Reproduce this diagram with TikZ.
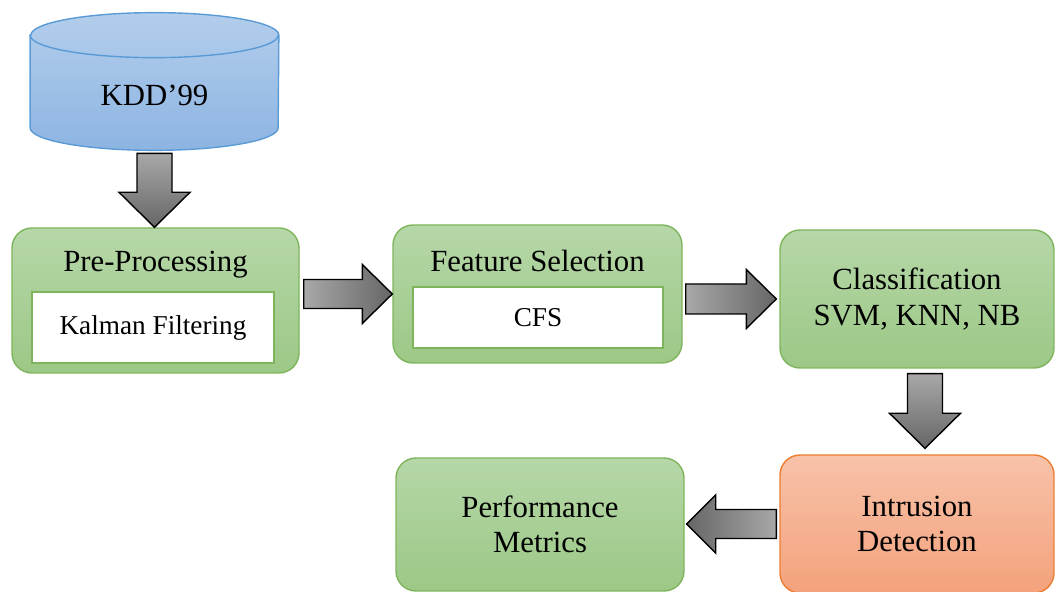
\documentclass[tikz,border=0pt]{standalone}
\usepackage{fontspec}
\setmainfont{Liberation Serif}
\usetikzlibrary{calc, positioning}
\definecolor{grnline}{HTML}{7EB55C}
\definecolor{grntop}{HTML}{B6D7A8}
\definecolor{grnbot}{HTML}{9CC886}
\definecolor{orgline}{HTML}{ED7D31}
\definecolor{orgtop}{HTML}{F7C2A9}
\definecolor{orgbot}{HTML}{F4A27C}
\definecolor{blueline}{HTML}{5B9BD5}
\definecolor{bluetop}{HTML}{B3CEEC}
\definecolor{bluebot}{HTML}{8DB4E2}
\definecolor{arrlight}{HTML}{A8A8A8}
\definecolor{arrdark}{HTML}{666666}
\tikzset{
  stage/.style={rectangle, rounded corners=0.4cm, draw=grnline, line width=0.8pt,
    top color=grntop, bottom color=grnbot, align=center, font=\fontsize{17.5}{20}\selectfont},
  stageOrg/.style={stage, draw=orgline, top color=orgtop, bottom color=orgbot},
  subbox/.style={rectangle, draw=grnline, line width=1.4pt, fill=white,
    font=\fontsize{15.5}{18}\selectfont},
  stagetitle/.style={font=\fontsize{17.5}{20}\selectfont},
  dbase/.style={rectangle, minimum width=4.96cm, minimum height=2.74cm, inner sep=0pt},
  dbfill/.style={draw=blueline, line width=0.8pt, top color=bluetop, bottom color=bluebot},
  fatarrow/.style n args={3}{draw=black, line width=0.8pt,
    to path={let \p1=(\tikztostart), \p2=(\tikztotarget),
      \n1={atan2(\y2-\y1,\x2-\x1)}, \n2={veclen(\x2-\x1,\y2-\y1)} in
      ($(\p1)+({\n1+90}:#1)$) -- ($(\p1)+(\n1:{\n2-#3})+({\n1+90}:#1)$)
      -- ($(\p1)+(\n1:{\n2-#3})+({\n1+90}:#2)$) -- (\p2)
      -- ($(\p1)+(\n1:{\n2-#3})+({\n1-90}:#2)$) -- ($(\p1)+(\n1:{\n2-#3})+({\n1-90}:#1)$)
      -- ($(\p1)+({\n1-90}:#1)$) -- cycle}},
}
\begin{document}
\begin{tikzpicture}
\useasboundingbox (0,0) rectangle (21.1,11.84);
% data set
\node[dbase] (kdd) at (3.09,10.21) {};
\path[dbfill] ([yshift=-0.45cm]kdd.north west) -- ([yshift=0.45cm]kdd.south west)
  arc[start angle=180, end angle=360, x radius=2.48cm, y radius=0.45cm]
  -- ([yshift=-0.45cm]kdd.north east)
  arc[start angle=0, end angle=180, x radius=2.48cm, y radius=0.45cm] -- cycle;
\draw[blueline, line width=0.8pt] ([yshift=-0.45cm]kdd.north west)
  arc[start angle=180, end angle=360, x radius=2.48cm, y radius=0.45cm];
\node[stagetitle] (kddtext) at (3.09,9.94) {KDD’99};
% stages
\node[stage, minimum width=5.74cm, minimum height=2.9cm] (pre) at (3.11,5.83) {};
\node[stagetitle] (pretitle) at ($(pre.north)+(0,-0.74)$) {Pre-Processing};
\node[subbox, minimum width=4.84cm, minimum height=1.42cm] (kalman) at (3.06,5.29) {Kalman Filtering};
\node[stage, minimum width=5.78cm, minimum height=2.76cm] (feat) at (10.75,5.96) {};
\node[stagetitle] (feattitle) at ($(feat.north)+(0,-0.74)$) {Feature Selection};
\node[subbox, minimum width=5cm, minimum height=1.22cm] (cfs) at (10.76,5.49) {CFS};
\node[stage, minimum width=5.48cm, minimum height=2.76cm] (cls) at (18.34,5.86) {Classification\\SVM, KNN, NB};
\node[stageOrg, minimum width=5.48cm, minimum height=2.76cm] (intr) at (18.34,1.36) {Intrusion\\Detection};
\node[stage, minimum width=5.76cm, minimum height=2.66cm] (perf) at (10.8,1.35) {Performance\\Metrics};
% block arrows
\draw[fatarrow={0.35cm}{0.71cm}{0.7cm}, top color=arrlight, bottom color=arrdark]
  ($(kdd.south)+(0,-0.06)$) to (kdd.south |- pre.north);
\draw[fatarrow={0.29cm}{0.59cm}{0.6cm}, left color=arrlight, right color=arrdark]
  ($(pre.east |- feat.west)+(0.08,0)$) to (feat.west);
\draw[fatarrow={0.3cm}{0.59cm}{0.6cm}, left color=arrlight, right color=arrdark]
  ($(feat.east |- cls.west)+(0.06,0)$) to ($(cls.west)+(-0.06,0)$);
\draw[fatarrow={0.35cm}{0.71cm}{0.7cm}, top color=arrlight, bottom color=arrdark]
  ($(cls.south)+(0.16,-0.1)$) to ($(intr.north)+(0.16,0.12)$);
\draw[fatarrow={0.29cm}{0.58cm}{0.58cm}, left color=arrdark, right color=arrlight]
  ($(intr.west)+(-0.06,0)$) to ($(perf.east |- intr.west)+(0.04,0)$);
\end{tikzpicture}
\end{document}
